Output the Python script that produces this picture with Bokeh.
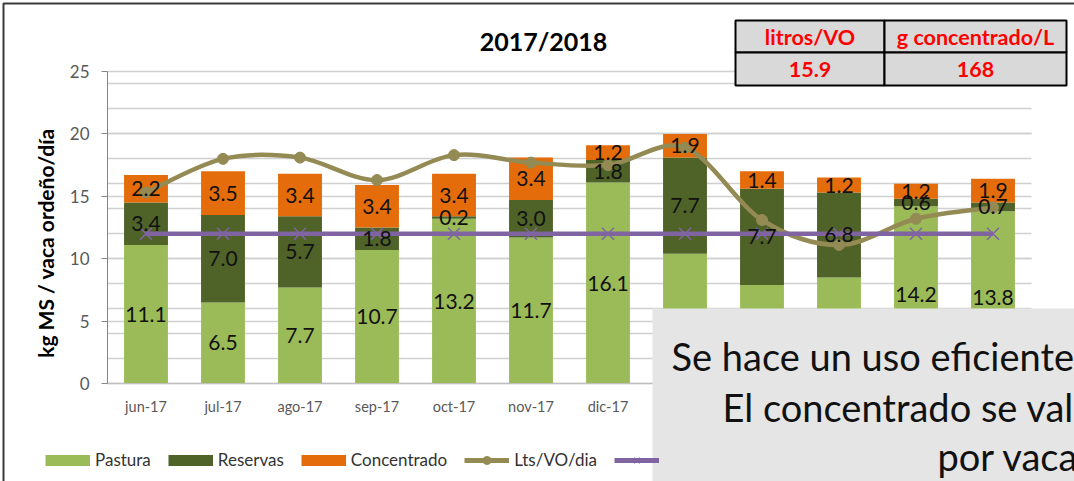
import numpy as np
from bokeh.plotting import figure
from bokeh.models import (ColumnDataSource, Range1d, FixedTicker, Grid, Label,
                          BoxAnnotation, Legend, LegendItem)
from bokeh.core.properties import value
from bokeh.embed import file_html
from bokeh.resources import INLINE

# ---------------- data ----------------
months = ["jun-17", "jul-17", "ago-17", "sep-17", "oct-17", "nov-17",
          "dic-17", "ene-18", "feb-18", "mar-18", "abr-18", "may-18"]
pastura = [11.1, 6.5, 7.7, 10.7, 13.2, 11.7, 16.1, 10.4, 7.9, 8.5, 14.2, 13.8]
reservas = [3.4, 7.0, 5.7, 1.8, 0.2, 3.0, 1.8, 7.7, 7.7, 6.8, 0.6, 0.7]
concentrado = [2.2, 3.5, 3.4, 3.4, 3.4, 3.4, 1.2, 1.9, 1.4, 1.2, 1.2, 1.9]
lts_vo_dia = [15.3, 18.0, 18.1, 16.3, 18.3, 17.7, 17.5, 18.9, 13.1, 11.1, 13.2, 14.1]
referencia = [12.0, 12.0, 12.0, 12.0, 12.0, 12.0, 12.0, 12.0, 12.0, 12.0, 12.0, 12.0]
y_ticks = [0, 5, 10, 15, 20, 25]
y_grid2 = [0, 2, 4, 6, 8, 10, 12, 14, 16, 18, 20, 22, 24]
series_names = ["Pastura", "Reservas", "Concentrado", "Lts/VO/dia", ""]
chart_title = "2017/2018"
table_headers = ["litros/VO", "g concentrado/L"]
table_values = ["15.9", "168"]
axis_title = "kg MS /  vaca ordeño/día"
note_lines = ["Se hace un uso eficiente", "El concentrado se val", "por vaca"]

# ---------------- styles / layout ----------------
C_PAST = "#9BBB59"
C_RES = "#4F6228"
C_CONC = "#E46C0A"
C_OLIVE = "#948A54"
C_PURPLE = "#8064A2"
FONT = "Lato"

W, H = 1074, 481
PL, PR = 107, 1031     # plot area left / right (page px)
PT, PB = 71, 383       # plot area top (y=25) / bottom (y=0)
NCAT = len(months)
XMIN, XMAX = -0.5, NCAT - 0.5
YMIN, YMAX = 0, 25
kx = (PR - PL) / (XMAX - XMIN)
ky = (PB - PT) / (YMAX - YMIN)


def sx(px):
    return px


def sy(py):
    return H - py


# the frame covers the whole canvas; the axes are pinned inside it
p = figure(width=W, height=H,
           x_range=Range1d(XMIN - PL / kx, XMAX + (W - PR) / kx),
           y_range=Range1d(YMIN - (H - PB) / ky, YMAX + PT / ky),
           output_backend="svg", toolbar_location=None, title=None,
           min_border=0)
p.outline_line_color = None
p.background_fill_color = "white"
p.border_fill_color = "white"

xs = list(range(NCAT))
xa_ = p.xaxis[0]
xa_.fixed_location = 0
xa_.bounds = (XMIN, XMAX)
xa_.ticker = FixedTicker(ticks=xs)
xa_.major_label_overrides = {i: m for i, m in enumerate(months)}
xa_.major_tick_line_color = None
xa_.minor_tick_line_color = None
xa_.major_tick_out = 0
xa_.major_tick_in = 0
xa_.major_label_standoff = 14
xa_.axis_line_color = "#BFBFBF"
xa_.major_label_text_font = FONT
xa_.major_label_text_font_size = "14.5px"
xa_.major_label_text_color = "#595959"

ya_ = p.yaxis[0]
ya_.fixed_location = XMIN
ya_.bounds = (YMIN, YMAX)
ya_.ticker = FixedTicker(ticks=y_ticks)
ya_.minor_tick_line_color = None
ya_.major_tick_in = 0
ya_.major_tick_out = 6
ya_.major_tick_line_color = "#868686"
ya_.axis_line_color = "#868686"
ya_.major_label_standoff = 12
ya_.major_label_text_font = FONT
ya_.major_label_text_font_size = "17px"
ya_.major_label_text_color = "#595959"

p.xgrid.visible = False
p.ygrid.visible = False
g1 = Grid(dimension=1, ticker=FixedTicker(ticks=y_ticks), bounds=(YMIN, YMAX),
          cross_bounds=(XMIN, XMAX), grid_line_color="#D0D0D0", grid_line_width=1.5)
g2 = Grid(dimension=1, ticker=FixedTicker(ticks=y_grid2), bounds=(YMIN, YMAX),
          cross_bounds=(XMIN, XMAX), grid_line_color="#D0D0D0", grid_line_width=1.5)
p.add_layout(g1)
p.add_layout(g2)

# bars
src = ColumnDataSource(dict(x=xs, pastura=pastura, reservas=reservas,
                            concentrado=concentrado))
p.vbar_stack(["pastura", "reservas", "concentrado"], x="x", width=0.57,
             fill_color=[C_PAST, C_RES, C_CONC], line_color=None, source=src)

# smoothed line (Catmull-Rom -> cubic Bezier through the data points)
xa = np.array(xs, dtype=float)
ya = np.array(lts_vo_dia, dtype=float)
n = len(xa)
i0 = np.arange(n - 1)
i1 = i0 + 1
ip = np.maximum(i0 - 1, 0)
inn = np.minimum(i0 + 2, n - 1)
p.bezier(x0=xa[i0], y0=ya[i0], x1=xa[i1], y1=ya[i1],
         cx0=xa[i0] + (xa[i1] - xa[ip]) / 6, cy0=ya[i0] + (ya[i1] - ya[ip]) / 6,
         cx1=xa[i1] - (xa[inn] - xa[i0]) / 6, cy1=ya[i1] - (ya[inn] - ya[i0]) / 6,
         line_color=C_OLIVE, line_width=4.5, line_cap="round")
p.scatter(xs, lts_vo_dia, marker="circle", size=11, fill_color=C_OLIVE,
          line_color=C_OLIVE)

p.line(xs, referencia, line_color=C_PURPLE, line_width=4.5)
p.scatter(xs, referencia, marker="x", size=17, line_color=C_PURPLE, line_width=1.5)

# data labels (centred in each segment)
lx, ly, lt = [], [], []
for i in range(n):
    base = 0.0
    for v in (pastura[i], reservas[i], concentrado[i]):
        lx.append(i)
        ly.append(base + v / 2)
        lt.append(f"{v:.1f}")
        base += v
p.text(x=lx, y=ly, text=lt, text_font=value(FONT), text_font_size="21px",
       text_align="center", text_baseline="middle", text_color="#111111")

# legend (proxy renderers whose single point is NaN, so they draw nothing)
nan_src = dict(x=[np.nan], y=[np.nan])
lp = p.line(x="x", y="y", source=ColumnDataSource(nan_src), line_color=C_PAST, line_width=11)
lr = p.line(x="x", y="y", source=ColumnDataSource(nan_src), line_color=C_RES, line_width=11)
lc = p.line(x="x", y="y", source=ColumnDataSource(nan_src), line_color=C_CONC, line_width=11)
lo = p.line(x="x", y="y", source=ColumnDataSource(nan_src), line_color=C_OLIVE, line_width=5)
lo2 = p.scatter(x="x", y="y", source=ColumnDataSource(nan_src), marker="circle",
                fill_color=C_OLIVE, line_color=C_OLIVE)
lu = p.line(x="x", y="y", source=ColumnDataSource(nan_src), line_color=C_PURPLE, line_width=5)
lu2 = p.scatter(x="x", y="y", source=ColumnDataSource(nan_src), marker="x",
                line_color=C_PURPLE, line_width=1.5)
legend = Legend(items=[LegendItem(label=series_names[0], renderers=[lp]),
                       LegendItem(label=series_names[1], renderers=[lr]),
                       LegendItem(label=series_names[2], renderers=[lc]),
                       LegendItem(label=series_names[3], renderers=[lo, lo2]),
                       LegendItem(label=value(series_names[4]), renderers=[lu, lu2])],
                orientation="horizontal", location=(sx(45), sy(470)),
                glyph_width=45, glyph_height=20, label_standoff=5, spacing=17,
                padding=0, margin=0, border_line_color=None,
                background_fill_alpha=0, label_text_font=FONT,
                label_text_font_size="17px", label_text_color="#333333")
p.add_layout(legend, "center")

# titles
p.add_layout(Label(x=sx(543), y=sy(40), x_units="screen", y_units="screen",
                   text=chart_title, text_font=FONT, text_font_size="25px",
                   text_font_style="bold", text_align="center",
                   text_baseline="middle", text_color="black"))
p.add_layout(Label(x=sx(45), y=sy(240), x_units="screen", y_units="screen",
                   text=axis_title, angle=np.pi / 2, text_font=FONT,
                   text_font_size="21px", text_font_style="bold",
                   text_align="center", text_baseline="middle",
                   text_color="black"))

# summary table
cols = [(735, 884), (884, 1066)]
rows = [(20, 52), (52, 85)]
for (x0, x1) in cols:
    for (y0, y1) in rows:
        p.add_layout(BoxAnnotation(left=sx(x0), right=sx(x1), top=sy(y0), bottom=sy(y1),
                                   left_units="screen", right_units="screen",
                                   top_units="screen", bottom_units="screen",
                                   fill_color="#D9D9D9", fill_alpha=1,
                                   line_color="black", line_width=2, line_alpha=1))
for k, (x0, x1) in enumerate(cols):
    for txt, (y0, y1) in zip((table_headers[k], table_values[k]), rows):
        p.add_layout(Label(x=sx((x0 + x1) / 2), y=sy((y0 + y1) / 2),
                           x_units="screen", y_units="screen", text=txt,
                           text_font=FONT, text_font_size="21.5px",
                           text_font_style="bold", text_color="#FF0000",
                           text_align="center", text_baseline="middle"))

# outer border of chart
p.add_layout(BoxAnnotation(left=sx(3), right=sx(1300), top=sy(3), bottom=sy(700),
                           left_units="screen", right_units="screen",
                           top_units="screen", bottom_units="screen",
                           fill_alpha=0, line_color="#3A3A3A", line_width=2, line_alpha=1))

# overlay note box
p.add_layout(BoxAnnotation(left=sx(652), right=sx(1300), top=sy(308), bottom=sy(700),
                           left_units="screen", right_units="screen",
                           top_units="screen", bottom_units="screen",
                           fill_color="#E5E5E5", fill_alpha=1, line_color=None))
for txt, (nx, ny) in zip(note_lines, [(671, 355), (722, 406), (937, 455)]):
    p.add_layout(Label(x=sx(nx), y=sy(ny), x_units="screen", y_units="screen",
                       text=txt, text_font=FONT, text_font_size="38px",
                       text_color="#111111", text_align="left",
                       text_baseline="alphabetic"))

open("out.html", "w").write(file_html(p, INLINE))
